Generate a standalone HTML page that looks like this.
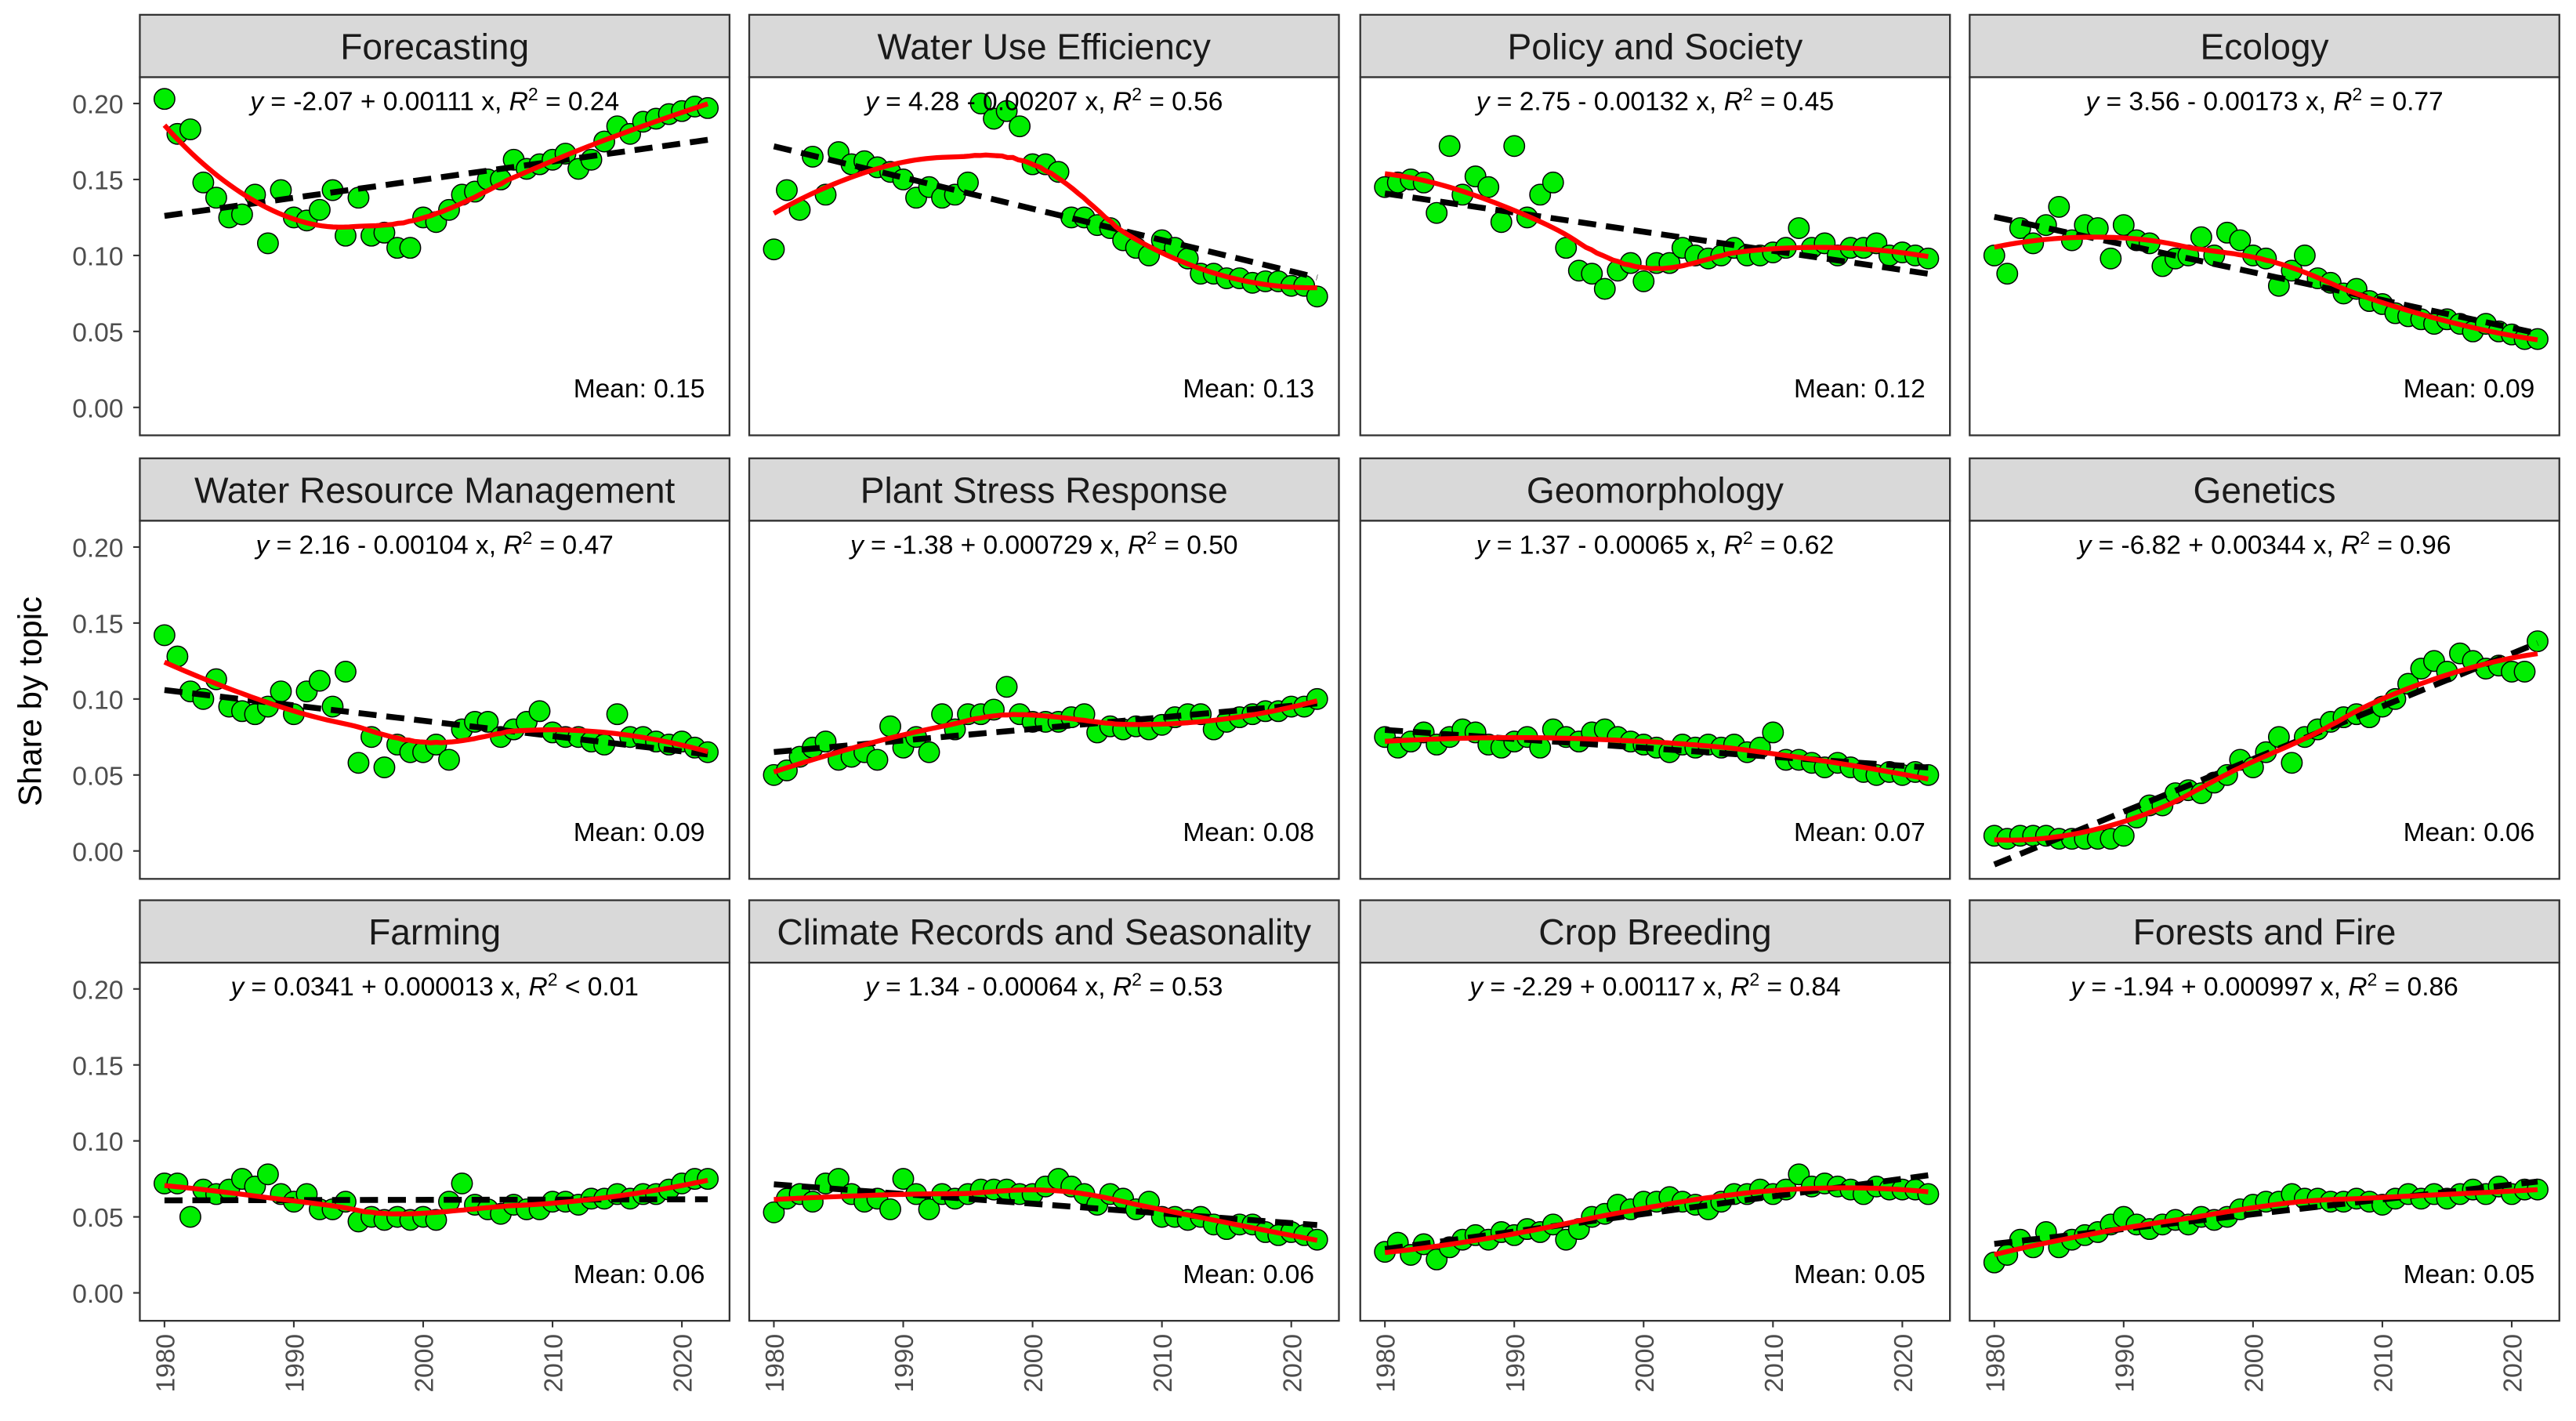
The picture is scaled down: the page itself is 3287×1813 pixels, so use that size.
<!DOCTYPE html>
<html><head><meta charset="utf-8"><style>
html,body{margin:0;padding:0;background:#fff}
svg{display:block}
text{font-family:"Liberation Sans",Arial,sans-serif}
</style></head><body>
<svg id="chart" width="3287" height="1813" viewBox="0 0 1568 865" xmlns="http://www.w3.org/2000/svg">
<rect width="1568" height="865" fill="#fff"/>
<text x="25" y="427" font-size="20" text-anchor="middle" transform="rotate(-90 25 427)" fill="#000">Share by topic</text>
</svg>
<script>
const years = Array.from({length:43},(_,i)=>1980+i);
const topics = ["Forecasting","Water Use Efficiency","Policy and Society","Ecology","Water Resource Management","Plant Stress Response","Geomorphology","Genetics","Farming","Climate Records and Seasonality","Crop Breeding","Forests and Fire"];
const equations = ["-2.07 + 0.00111 x, |0.24","4.28 - 0.00207 x, |0.56","2.75 - 0.00132 x, |0.45","3.56 - 0.00173 x, |0.77","2.16 - 0.00104 x, |0.47","-1.38 + 0.000729 x, |0.50","1.37 - 0.00065 x, |0.62","-6.82 + 0.00344 x, |0.96","0.0341 + 0.000013 x, |< 0.01","1.34 - 0.00064 x, |0.53","-2.29 + 0.00117 x, |0.84","-1.94 + 0.000997 x, |0.86"];
const means = ["0.15","0.13","0.12","0.09","0.09","0.08","0.07","0.06","0.06","0.06","0.05","0.05"];
const yTicks = [0,0.05,0.10,0.15,0.20];
const yTickLabels = ["0.00","0.05","0.10","0.15","0.20"];
const xTicks = [1980,1990,2000,2010,2020];
const sForecasting=[0.203,0.18,0.183,0.148,0.138,0.125,0.127,0.14,0.108,0.143,0.125,0.123,0.13,0.143,0.113,0.138,0.113,0.115,0.105,0.105,0.125,0.122,0.13,0.14,0.142,0.15,0.15,0.163,0.157,0.16,0.163,0.167,0.157,0.163,0.175,0.185,0.18,0.188,0.19,0.193,0.195,0.198,0.197];
const sWUE=[0.104,0.143,0.13,0.165,0.14,0.168,0.16,0.162,0.158,0.155,0.15,0.138,0.145,0.138,0.14,0.148,0.2,0.19,0.195,0.185,0.16,0.16,0.155,0.125,0.125,0.12,0.118,0.11,0.105,0.1,0.11,0.105,0.098,0.088,0.088,0.085,0.085,0.082,0.083,0.083,0.08,0.08,0.073];
const sPolicy=[0.145,0.148,0.15,0.148,0.128,0.172,0.14,0.152,0.145,0.122,0.172,0.125,0.14,0.148,0.105,0.09,0.088,0.078,0.09,0.095,0.083,0.095,0.095,0.105,0.1,0.098,0.1,0.105,0.1,0.1,0.102,0.105,0.118,0.105,0.108,0.1,0.105,0.105,0.108,0.1,0.102,0.1,0.098];
const sEcology=[0.1,0.088,0.118,0.108,0.12,0.132,0.11,0.12,0.118,0.098,0.12,0.11,0.108,0.093,0.098,0.1,0.112,0.1,0.115,0.11,0.1,0.098,0.08,0.09,0.1,0.085,0.082,0.075,0.078,0.07,0.068,0.062,0.06,0.058,0.055,0.058,0.055,0.05,0.055,0.05,0.048,0.045,0.045];
const sWRM=[0.142,0.128,0.105,0.1,0.113,0.095,0.092,0.09,0.095,0.105,0.09,0.105,0.112,0.095,0.118,0.058,0.075,0.055,0.07,0.065,0.065,0.07,0.06,0.08,0.085,0.085,0.075,0.08,0.085,0.092,0.078,0.075,0.075,0.072,0.07,0.09,0.075,0.075,0.072,0.07,0.072,0.068,0.065];
const sPSR=[0.05,0.053,0.062,0.068,0.072,0.06,0.062,0.065,0.06,0.082,0.068,0.075,0.065,0.09,0.08,0.09,0.09,0.093,0.108,0.09,0.085,0.085,0.085,0.088,0.09,0.078,0.082,0.08,0.082,0.08,0.083,0.088,0.09,0.09,0.08,0.085,0.088,0.09,0.092,0.092,0.095,0.095,0.1];
const sGeomorph=[0.075,0.068,0.072,0.078,0.07,0.075,0.08,0.078,0.07,0.068,0.072,0.075,0.068,0.08,0.075,0.072,0.078,0.08,0.075,0.072,0.07,0.068,0.065,0.07,0.068,0.07,0.068,0.07,0.065,0.068,0.078,0.06,0.06,0.058,0.055,0.058,0.055,0.052,0.05,0.052,0.05,0.052,0.05];
const sGenetics=[0.01,0.008,0.01,0.01,0.01,0.008,0.008,0.008,0.008,0.008,0.01,0.022,0.03,0.03,0.038,0.04,0.038,0.045,0.05,0.06,0.055,0.065,0.075,0.058,0.075,0.08,0.085,0.088,0.09,0.088,0.095,0.1,0.11,0.12,0.125,0.118,0.13,0.125,0.12,0.122,0.118,0.118,0.138];
const sFarming=[0.072,0.072,0.05,0.068,0.065,0.068,0.075,0.07,0.078,0.065,0.06,0.065,0.055,0.055,0.06,0.047,0.05,0.048,0.05,0.048,0.05,0.048,0.06,0.072,0.058,0.055,0.052,0.058,0.055,0.055,0.06,0.06,0.058,0.062,0.062,0.065,0.062,0.065,0.065,0.068,0.072,0.075,0.075];
const sClimate=[0.053,0.062,0.065,0.06,0.072,0.075,0.065,0.06,0.062,0.055,0.075,0.065,0.055,0.065,0.062,0.065,0.068,0.068,0.068,0.065,0.065,0.07,0.075,0.07,0.065,0.058,0.065,0.062,0.055,0.06,0.05,0.05,0.048,0.05,0.045,0.042,0.045,0.045,0.04,0.038,0.04,0.038,0.035];
const sCrop=[0.027,0.033,0.025,0.032,0.022,0.03,0.035,0.038,0.035,0.04,0.038,0.042,0.04,0.045,0.035,0.042,0.05,0.052,0.058,0.055,0.06,0.06,0.063,0.06,0.058,0.055,0.06,0.065,0.065,0.068,0.065,0.068,0.078,0.07,0.072,0.07,0.068,0.065,0.07,0.068,0.068,0.068,0.065];
const sForests=[0.02,0.025,0.035,0.03,0.04,0.03,0.035,0.038,0.04,0.045,0.05,0.045,0.042,0.045,0.048,0.045,0.05,0.048,0.05,0.055,0.058,0.06,0.06,0.065,0.062,0.062,0.06,0.06,0.062,0.06,0.058,0.062,0.065,0.062,0.065,0.062,0.065,0.068,0.065,0.07,0.065,0.068,0.068];
const series=[sForecasting,sWUE,sPolicy,sEcology,sWRM,sPSR,sGeomorph,sGenetics,sFarming,sClimate,sCrop,sForests];

const NS="http://www.w3.org/2000/svg";
const svg=document.getElementById('chart');
function mk(tag,attrs,parent){const e=document.createElementNS(NS,tag);for(const k in attrs)e.setAttribute(k,attrs[k]);(parent||svg).appendChild(e);return e;}
const colX=[85,456,828,1199], panW=359;
const rowY=[9,279,548], stripH=38, panH=218;

function loess(xs,ys,span){
  const n=xs.length,q=Math.floor(span*n),out=[];
  const grid=[];for(let g=0;g<=100;g++)grid.push(xs[0]+(xs[n-1]-xs[0])*g/100);
  for(const x0 of grid){
    const d=xs.map(x=>Math.abs(x-x0)).slice().sort((a,b)=>a-b);
    const h=d[q-1]||1;
    let S=[0,0,0,0,0],T=[0,0,0];
    for(let i=0;i<n;i++){const u=Math.abs(xs[i]-x0)/h;if(u>=1)continue;const w=Math.pow(1-u*u*u,3);const dx=xs[i]-x0;
      S[0]+=w;S[1]+=w*dx;S[2]+=w*dx*dx;S[3]+=w*dx*dx*dx;S[4]+=w*dx*dx*dx*dx;T[0]+=w*ys[i];T[1]+=w*dx*ys[i];T[2]+=w*dx*dx*ys[i];}
    const M=[[S[0],S[1],S[2]],[S[1],S[2],S[3]],[S[2],S[3],S[4]]];
    const det=m=>m[0][0]*(m[1][1]*m[2][2]-m[1][2]*m[2][1])-m[0][1]*(m[1][0]*m[2][2]-m[1][2]*m[2][0])+m[0][2]*(m[1][0]*m[2][1]-m[1][1]*m[2][0]);
    const D=det(M);const M0=M.map((r,i)=>[T[i],r[1],r[2]]);
    out.push([x0,det(M0)/D]);
  }
  return out;
}

series.forEach((vals,p)=>{
  const c=p%4,r=Math.floor(p/4);
  const px=colX[c],py=rowY[r]+stripH;
  const g=mk('g',{});  
  const xS=y=>px+15+(y-1980)*7.875;
  const y0=py+201, yS=v=>y0-v*925;
  const strip=mk('rect',{x:px,y:rowY[r],width:panW,height:stripH,fill:'#d9d9d9',stroke:'#333','stroke-width':1.1},g);
   
  const st=mk('text',{x:px+panW/2,y:rowY[r]+27,'font-size':22,'text-anchor':'middle',fill:'#1a1a1a'},g); st.textContent=topics[p];
   
  mk('rect',{x:px,y:py,width:panW,height:panH,fill:'#fff',stroke:'#333','stroke-width':1.1},g);
  // regression
  const n=vals.length,mx=years.reduce((a,b)=>a+b)/n,my=vals.reduce((a,b)=>a+b)/n;
  let sxy=0,sxx=0;years.forEach((x,i)=>{sxy+=(x-mx)*(vals[i]-my);sxx+=(x-mx)**2;});
  const b=sxy/sxx,a=my-b*mx;
  // points
  vals.forEach((v,i)=>{const pt=mk('circle',{cx:xS(years[i]),cy:yS(v),r:6.3,fill:'#00ee00',stroke:'#000','stroke-width':0.7},g);
     });
  const rl=mk('line',{x1:xS(1980),y1:yS(a+b*1980),x2:xS(2022),y2:yS(a+b*2022),stroke:'#000','stroke-width':3.6,'stroke-dasharray':'11,6'},g);
   
  const sm=loess(years,vals,0.75);
  const sl=mk('path',{d:sm.map((q,i)=>(i?'L':'M')+xS(q[0]).toFixed(2)+','+yS(q[1]).toFixed(2)).join(''),fill:'none',stroke:'#ff0000','stroke-width':3},g);
   
  // equation
  const [eq,r2]=equations[p].split('|');
  const et=mk('text',{x:px+panW/2,y:py+20,'font-size':16,'text-anchor':'middle',fill:'#000'},g);
   
  et.innerHTML='<tspan font-style="italic">y</tspan> = '+eq+' <tspan font-style="italic">R</tspan><tspan font-size="11" dy="-6">2</tspan><tspan dy="6">'+(r2.startsWith('<')?' ':' = ')+r2.replace('<','&lt;')+'</tspan>';
  const mt=mk('text',{x:px+panW-15,y:py+195,'font-size':16,'text-anchor':'end',fill:'#000'},g); mt.textContent='Mean: '+means[p];
   
  if(c===0){yTicks.forEach((t,i)=>{mk('line',{x1:px-4,x2:px,y1:yS(t),y2:yS(t),stroke:'#333','stroke-width':1},g);
    const tl=mk('text',{x:px-10,y:yS(t)+6,'font-size':16,'text-anchor':'end',fill:'#4d4d4d'},g);tl.textContent=yTickLabels[i];
     });}
  if(r===2){xTicks.forEach(t=>{mk('line',{x1:xS(t),x2:xS(t),y1:py+panH,y2:py+panH+4,stroke:'#333','stroke-width':1},g);
    const tx=xS(t)+6,ty=py+panH+8;
    const tl=mk('text',{x:tx,y:ty,'font-size':16,'text-anchor':'end',fill:'#4d4d4d',transform:`rotate(-90 ${tx} ${ty})`},g);tl.textContent=t;
     });}
});
</script>
</body></html>
